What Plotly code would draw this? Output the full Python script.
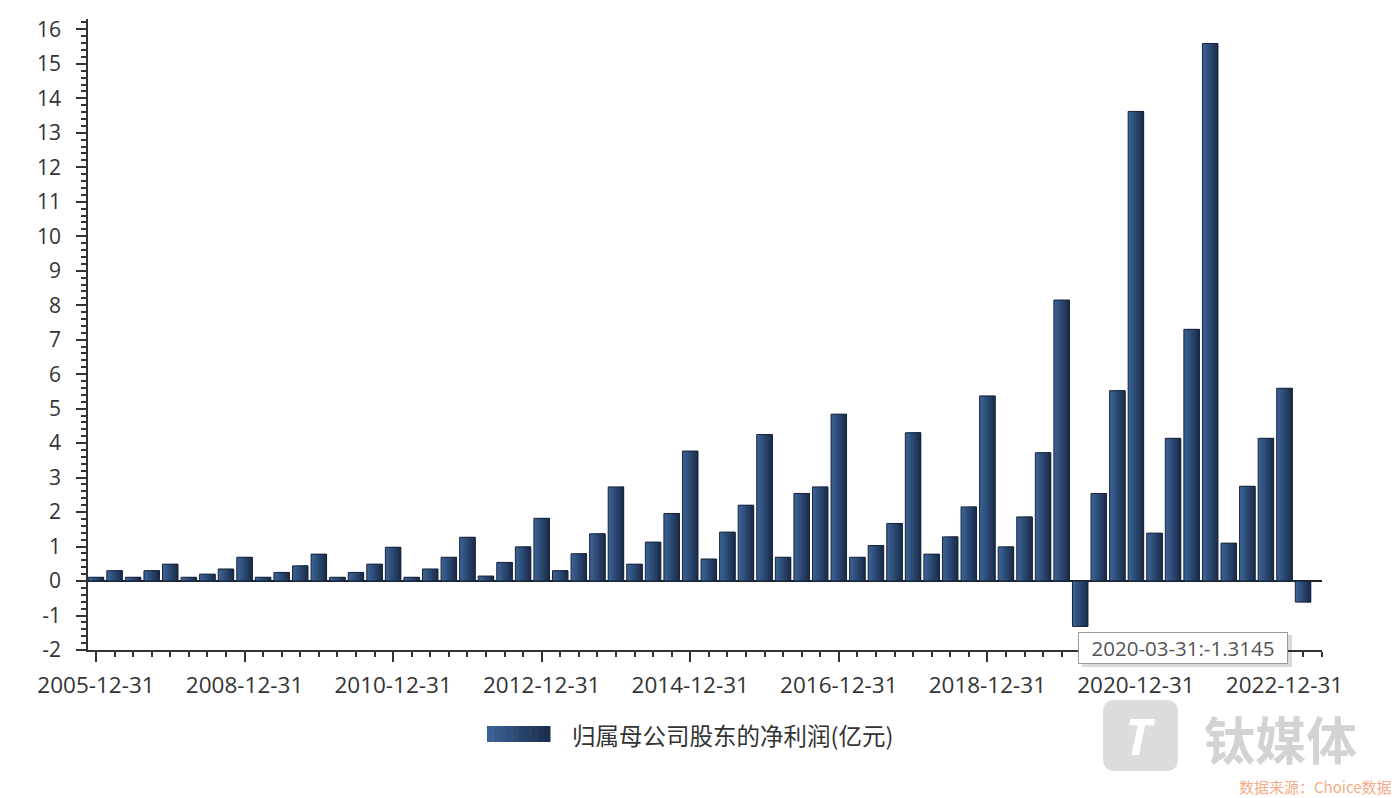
import plotly.graph_objects as go

# ---------------- data ----------------
dates = [
    "2005-12-31", "2006-12-31", "2007-06-30", "2007-09-30", "2007-12-31",
    "2008-03-31", "2008-06-30", "2008-09-30", "2008-12-31",
    "2009-03-31", "2009-06-30", "2009-09-30", "2009-12-31",
    "2010-03-31", "2010-06-30", "2010-09-30", "2010-12-31",
    "2011-03-31", "2011-06-30", "2011-09-30", "2011-12-31",
    "2012-03-31", "2012-06-30", "2012-09-30", "2012-12-31",
    "2013-03-31", "2013-06-30", "2013-09-30", "2013-12-31",
    "2014-03-31", "2014-06-30", "2014-09-30", "2014-12-31",
    "2015-03-31", "2015-06-30", "2015-09-30", "2015-12-31",
    "2016-03-31", "2016-06-30", "2016-09-30", "2016-12-31",
    "2017-03-31", "2017-06-30", "2017-09-30", "2017-12-31",
    "2018-03-31", "2018-06-30", "2018-09-30", "2018-12-31",
    "2019-03-31", "2019-06-30", "2019-09-30", "2019-12-31",
    "2020-03-31", "2020-06-30", "2020-09-30", "2020-12-31",
    "2021-03-31", "2021-06-30", "2021-09-30", "2021-12-31",
    "2022-03-31", "2022-06-30", "2022-09-30", "2022-12-31",
    "2023-03-31",
]
net_profit = [
    0.11, 0.30, 0.11, 0.30, 0.49,
    0.11, 0.20, 0.35, 0.69,
    0.11, 0.25, 0.44, 0.78,
    0.11, 0.25, 0.49, 0.98,
    0.11, 0.35, 0.69, 1.27,
    0.145, 0.54, 0.99, 1.82,
    0.30, 0.79, 1.37, 2.73,
    0.49, 1.13, 1.96, 3.77,
    0.64, 1.42, 2.20, 4.25,
    0.69, 2.54, 2.73, 4.84,
    0.69, 1.03, 1.67, 4.30,
    0.78, 1.28, 2.15, 5.37,
    0.99, 1.86, 3.72, 8.15,
    -1.3145, 2.54, 5.52, 13.62,
    1.39, 4.14, 7.30, 15.59,
    1.10, 2.75, 4.14, 5.59,
    -0.61,
]
label_dates = ["2005-12-31", "2008-12-31", "2010-12-31", "2012-12-31",
               "2014-12-31", "2016-12-31", "2018-12-31", "2020-12-31",
               "2022-12-31"]
y_ticks = list(range(-2, 17))
series_name = "归属母公司股东的净利润(亿元)"
tooltip_date = "2020-03-31"
tooltip_value = -1.3145
watermark = "钛媒体"
source_text = "数据来源：Choice数据"

# ---------------- style ----------------
FONT = "Open Sans, Noto Sans CJK SC, sans-serif"
CJK = "Noto Sans CJK SC, sans-serif"
TXT = "#333333"
light = (0x3a, 0x61, 0x94)
dark = (0x1c, 0x2f, 0x4e)
N_STRIPES = 8
BW = 0.835

def mix(t):
    return "rgb({},{},{})".format(*[round(a + (b - a) * t) for a, b in zip(light, dark)])

x_idx = list(range(len(dates)))

fig = go.Figure()
for k in range(N_STRIPES):
    fig.add_trace(go.Bar(
        x=x_idx, y=net_profit,
        offset=-BW / 2 + k * BW / N_STRIPES,
        width=BW - k * BW / N_STRIPES,
        marker=dict(color=mix(k / (N_STRIPES - 1)), line=dict(width=0)),
        showlegend=False, hoverinfo="skip",
    ))
fig.add_trace(go.Bar(
    x=x_idx, y=net_profit, offset=-BW / 2, width=BW,
    marker=dict(color="rgba(0,0,0,0)", line=dict(color="#17243a", width=1)),
    customdata=dates, name=series_name, showlegend=False,
    hovertemplate="%{customdata}:%{y}<extra></extra>",
))

# plot-area pixel geometry helpers (paper coords)
L, R, T, B = 88, 1322, 19, 650
def px(xp):
    return (xp - L) / (R - L)
def py(yp):
    return (B - yp) / (B - T)

shapes = []
# legend swatch (gradient stripes)
lx0, lx1, ly0, ly1 = 487, 550, 726, 742
n = 10
for k in range(n):
    shapes.append(dict(type="rect", xref="paper", yref="paper",
                       x0=px(lx0 + (lx1 - lx0) * k / n), x1=px(lx0 + (lx1 - lx0) * (k + 1) / n + 0.5),
                       y0=py(ly1), y1=py(ly0), line=dict(width=0),
                       fillcolor=mix(k / (n - 1))))
# tooltip shadow
shapes.append(dict(type="rect", xref="paper", yref="paper",
                   x0=px(1082), x1=px(1292), y0=py(667), y1=py(635),
                   line=dict(width=0), fillcolor="rgba(0,0,0,0.15)"))
# watermark icon
shapes.append(dict(type="path", xref="paper", yref="paper",
                   path=("M {a},{d} L {b},{d} Q {c},{d} {c},{e} L {c},{f} Q {c},{g} {b},{g} "
                         "L {a},{g} Q {h},{g} {h},{f} L {h},{e} Q {h},{d} {a},{d} Z").format(
                       h=px(1103), a=px(1115), b=px(1166), c=px(1178),
                       d=py(700), e=py(712), f=py(759), g=py(771)),
                   line=dict(width=0), fillcolor="rgba(205,205,205,0.7)"))

annotations = [
    dict(xref="paper", yref="paper", x=px(570), y=py(735), xanchor="left", yanchor="middle",
         text=series_name, showarrow=False, font=dict(family=CJK, size=23.5, color=TXT)),
    dict(xref="paper", yref="paper", x=px(1183), y=py(648), xanchor="center", yanchor="middle",
         text=f"{tooltip_date}:{tooltip_value}", showarrow=False,
         font=dict(family=FONT, size=20.5, color="#555555"),
         bgcolor="white", bordercolor="#9a9a9a", borderwidth=1, borderpad=3, width=202, height=24),
    dict(xref="paper", yref="paper", x=px(1140), y=py(736), xanchor="center", yanchor="middle",
         text="<b><i>T</i></b>", showarrow=False, font=dict(family=FONT, size=50, color="white")),
    dict(xref="paper", yref="paper", x=px(1280), y=py(738.3), xanchor="center", yanchor="middle",
         text=f"<b>{watermark}</b>", showarrow=False,
         font=dict(family=CJK, size=51, color="rgba(200,200,200,0.8)")),
    dict(xref="paper", yref="paper", x=px(1394), y=py(786.5), xanchor="right", yanchor="middle",
         text=source_text, showarrow=False, font=dict(family=CJK, size=15, color="#f5ac88")),
]

fig.update_layout(
    width=1399, height=798,
    margin=dict(l=L, r=1399 - R, t=T, b=798 - B),
    paper_bgcolor="white", plot_bgcolor="white",
    barmode="overlay", showlegend=False,
    font=dict(family=FONT, color=TXT),
    shapes=shapes, annotations=annotations,
    xaxis=dict(
        range=[-0.43, 66.02],
        tickmode="array",
        tickvals=[dates.index(d) for d in label_dates],
        ticktext=label_dates,
        ticks="outside", ticklen=10, tickwidth=1.5, tickcolor="#333",
        minor=dict(ticks="outside", ticklen=5, tickwidth=1.5, tickcolor="#333", dtick=1, tick0=0, showgrid=False),
        showline=True, linecolor="#333", linewidth=1.5,
        showgrid=False, zeroline=False,
        tickfont=dict(family=FONT, size=22.5, color=TXT),
        ticklabelstandoff=4,
    ),
    yaxis=dict(
        range=[-2, 16.3],
        tickmode="array", tickvals=y_ticks, ticktext=[str(v) for v in y_ticks],
        ticks="outside", ticklen=10, tickwidth=1.5, tickcolor="#333",
        minor=dict(ticks="outside", ticklen=5, tickwidth=1.5, tickcolor="#333", dtick=0.2, tick0=0, showgrid=False),
        showline=True, linecolor="#333", linewidth=1.5,
        showgrid=False,
        zeroline=True, zerolinecolor="#222", zerolinewidth=1.5,
        tickfont=dict(family=FONT, size=21, color=TXT),
        ticklabelstandoff=11,
    ),
)

fig.write_html("out.html")
